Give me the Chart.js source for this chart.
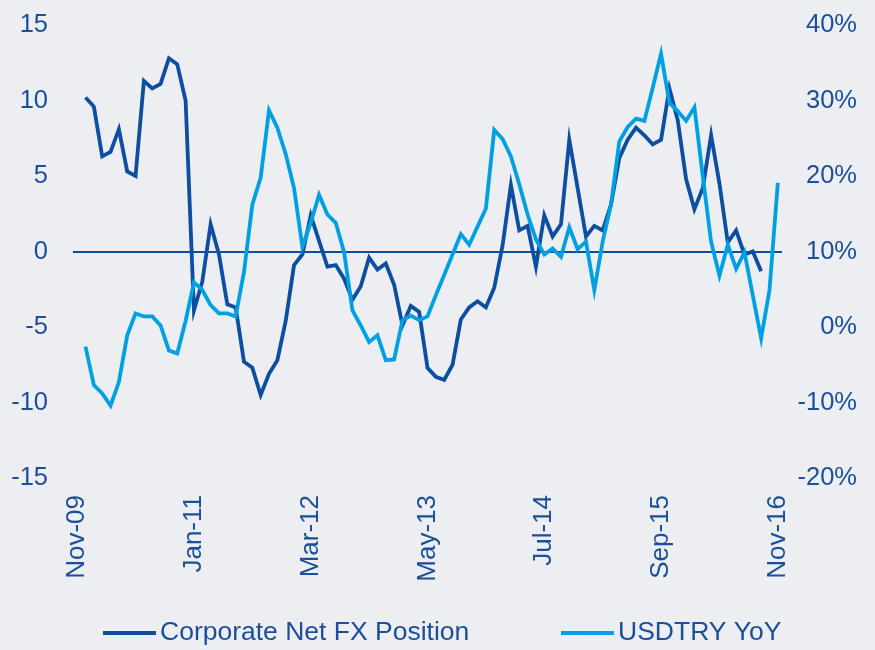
<!DOCTYPE html>
<html><head><meta charset="utf-8">
<script src="https://cdn.jsdelivr.net/npm/chart.js@4/dist/chart.umd.min.js"></script>
<style>html,body{margin:0;padding:0;background:#eceef1;}#wrap{width:875px;height:650px;}</style>
</head><body><div id="wrap"><canvas id="c" width="875" height="650"></canvas></div>
<script>
// Monthly series (first point = end Nov-09)
const corporateNetFx = [10.2,9.6,6.3,6.6,8.1,5.3,5.0,11.3,10.8,11.1,12.8,12.4,10.0,-3.9,-2.0,1.8,-0.2,-3.5,-3.7,-7.3,
  -7.7,-9.5,-8.1,-7.2,-4.6,-0.9,-0.2,2.4,0.7,-1.0,-0.9,-1.8,-3.2,-2.3,-0.4,-1.2,-0.8,-2.2,-4.9,-3.6,
  -4.0,-7.7,-8.3,-8.5,-7.5,-4.5,-3.7,-3.3,-3.7,-2.4,0.4,4.4,1.4,1.7,-1.0,2.4,1.0,1.8,7.4,4.2,
  1.0,1.7,1.4,3.1,6.2,7.4,8.2,7.7,7.1,7.4,10.8,8.7,4.8,2.8,4.2,7.7,4.5,0.6,1.4,-0.2,
  0.0,-1.3];
const usdtryYoY = [-2.6,-7.7,-8.8,-10.4,-7.3,-1.1,1.8,1.4,1.4,0.2,-3.1,-3.5,0.8,5.9,4.9,2.9,1.8,1.8,1.4,7.3,
  16.2,19.8,28.7,26.4,22.9,18.4,10.6,13.8,17.5,14.9,13.8,9.9,2.2,0.2,-2.0,-1.1,-4.4,-4.3,0.9,1.5,
  0.9,1.4,4.2,6.9,9.6,12.3,10.9,13.3,15.7,26.1,24.9,22.6,18.9,14.9,11.6,9.6,10.4,9.3,13.2,10.3,
  11.3,4.9,11.3,16.2,24.6,26.5,27.6,27.3,31.7,36.2,29.7,28.6,27.3,29.1,20.0,11.3,6.8,10.9,7.7,9.9,
  4.2,-1.5,4.9,19.1];
const xTickLabels = ['Nov-09','Jan-11','Mar-12','May-13','Jul-14','Sep-15','Nov-16'];
const xTickPositions = [-1,13,27,41,55,69,83];
const seriesNames = ['Corporate Net FX Position','USDTRY YoY'];

const DARK = '#0d4ea0', LIGHT = '#02a0e2', TXT = '#1b4f9b', BG = '#eceef1';
const FONT = "'Liberation Sans', Arial, sans-serif";

const bgPlugin = {
  id: 'bg',
  beforeDraw(chart) {
    const c = chart.ctx; c.save(); c.fillStyle = BG; c.fillRect(0,0,chart.width,chart.height); c.restore();
  }
};
const legendPlugin = {
  id: 'bottomLegend',
  afterDraw(chart) {
    const c = chart.ctx;
    const slots = [{x:103, w:53}, {x:561, w:53}];
    const y = 633;
    c.save();
    c.font = '26.5px ' + FONT;
    c.textBaseline = 'middle';
    c.textAlign = 'left';
    chart.data.datasets.forEach((ds, k) => {
      const s = slots[k];
      c.strokeStyle = ds.borderColor; c.lineWidth = 4;
      c.beginPath(); c.moveTo(s.x, y); c.lineTo(s.x + s.w, y); c.stroke();
      c.fillStyle = TXT;
      c.fillText(ds.label, s.x + s.w + 4, y);
    });
    c.restore();
  }
};

new Chart(document.getElementById('c'), {
  type: 'line',
  data: {
    datasets: [
      { label: seriesNames[0], data: corporateNetFx.map((v,i)=>({x:i,y:v})), yAxisID: 'y',
        borderColor: DARK, borderWidth: 3.8, pointRadius: 0, tension: 0, order: 1 },
      { label: seriesNames[1], data: usdtryYoY.map((v,i)=>({x:i,y:v})), yAxisID: 'y2',
        borderColor: LIGHT, borderWidth: 3.8, pointRadius: 0, tension: 0, order: 0 }
    ]
  },
  options: {
    responsive: false, animation: false, devicePixelRatio: 1,
    layout: { padding: { top: 25, bottom: 62, left: 0, right: 18 } },
    plugins: { legend: { display: false }, tooltip: { enabled: false } },
    scales: {
      x: {
        type: 'linear', min: -1.5, max: 83.5,
        afterBuildTicks: (axis) => { axis.ticks = xTickPositions.map(v => ({ value: v })); },
        afterFit: (axis) => { axis.height = 110; },
        grid: { display: false, drawTicks: false },
        border: { display: false },
        ticks: {
          autoSkip: false, maxRotation: 90, minRotation: 90, padding: 17,
          color: TXT, font: { family: FONT, size: 26 },
          callback: (v) => { const k = xTickPositions.indexOf(v); return k >= 0 ? xTickLabels[k] : ''; }
        }
      },
      y: {
        position: 'left', min: -15, max: 15,
        afterFit: (axis) => { axis.width = 73; },
        grid: { drawTicks: false, lineWidth: 2, color: (ctx) => ctx.tick && ctx.tick.value === 0 ? DARK : 'rgba(0,0,0,0)' },
        border: { display: false },
        ticks: { stepSize: 5, padding: 25, color: TXT, font: { family: FONT, size: 25.5, lineHeight: 0.001 } }
      },
      y2: {
        position: 'right', min: -20, max: 40,
        afterFit: (axis) => { axis.width = 75; },
        grid: { display: false, drawTicks: false },
        border: { display: false },
        ticks: { stepSize: 10, padding: 21, crossAlign: 'far', color: TXT, font: { family: FONT, size: 25.5, lineHeight: 0.001 }, callback: (v) => v + '%' }
      }
    }
  },
  plugins: [bgPlugin, legendPlugin]
});
</script>
</body></html>
